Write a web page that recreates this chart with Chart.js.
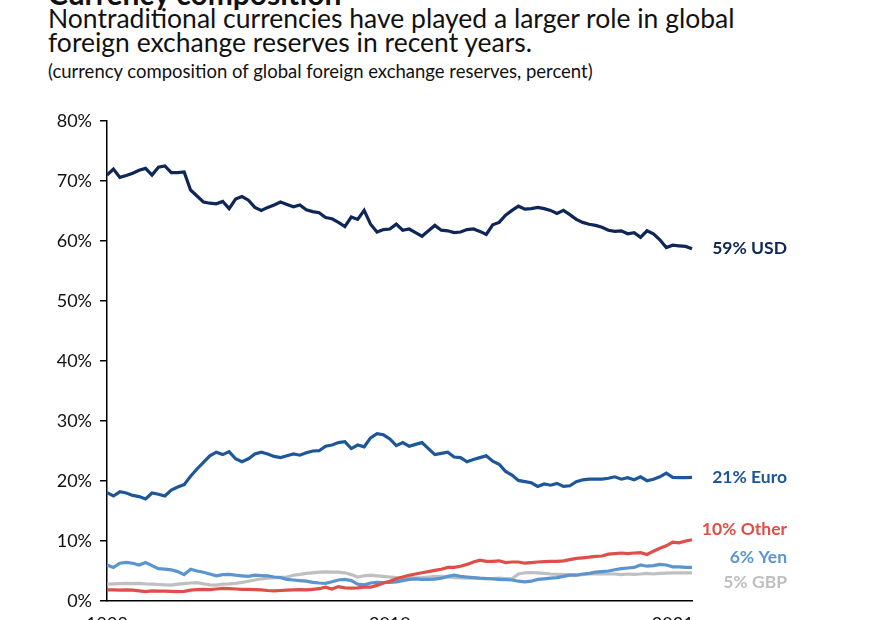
<!DOCTYPE html>
<html>
<head>
<meta charset="utf-8">
<script src="https://cdn.jsdelivr.net/npm/chart.js@4.4.1/dist/chart.umd.min.js"></script>
<style>
  body { margin: 0; background: #fff; }
  #wrap { position: relative; width: 881px; height: 620px; overflow: hidden; background: #fff; font-family: Lato, sans-serif; color: #111; }
  .t { position: absolute; left: 48px; white-space: nowrap; }
  #title { top: -22px; font-size: 30px; line-height: 30px; font-weight: 700; }
  #sub { top: 6px; font-size: 26.5px; line-height: 24px; }
  #note { top: 62px; font-size: 18.5px; line-height: 18.5px; }
  #box { position: absolute; left: 0; top: 0; width: 881px; height: 660px; }
</style>
</head>
<body>
<div id="wrap">
  <div class="t" id="title">Currency composition</div>
  <div class="t" id="sub">Nontraditional currencies have played a larger role in global<br>foreign exchange reserves in recent years.</div>
  <div class="t" id="note">(currency composition of global foreign exchange reserves, percent)</div>
  <div id="box"><canvas id="myChart"></canvas></div>
</div>
<script>
// quarterly, 1999 Q1 - 2021 Q4
const years = [];
for (let y = 1999; y <= 2021; y++) years.push(y);
const quarters = [];
years.forEach(y => ['Q1', 'Q2', 'Q3', 'Q4'].forEach(q => quarters.push(y + ' ' + q)));

const tickYears = ['1999', '2010', '2021'];

const usd = [71.0, 72.0, 70.6, 70.9, 71.3, 71.8, 72.1, 71.0, 72.3, 72.5,
  71.4, 71.4, 71.5, 68.5, 67.5, 66.5, 66.3, 66.2, 66.6, 65.4,
  67.0, 67.4, 66.8, 65.6, 65.1, 65.6, 66.0, 66.5, 66.1, 65.7,
  66.0, 65.2, 64.9, 64.7, 63.9, 63.7, 63.1, 62.4, 64.0, 63.6,
  65.1, 62.8, 61.5, 61.9, 62.0, 62.8, 61.8, 62.0, 61.4, 60.8,
  61.7, 62.6, 61.8, 61.7, 61.4, 61.5, 61.9, 62.0, 61.6, 61.1,
  62.7, 63.1, 64.3, 65.1, 65.8, 65.3, 65.4, 65.6, 65.4, 65.1,
  64.6, 65.1, 64.4, 63.6, 63.1, 62.8, 62.6, 62.3, 61.8, 61.6,
  61.7, 61.2, 61.4, 60.6, 61.7, 61.2, 60.2, 58.9, 59.3, 59.2,
  59.1, 58.7];
const euro = [18.05, 17.5, 18.2, 18.0, 17.6, 17.4, 17.0, 18.0, 17.8, 17.5,
  18.5, 19.0, 19.4, 20.8, 22.0, 23.1, 24.2, 24.8, 24.4, 24.9,
  23.7, 23.2, 23.7, 24.5, 24.8, 24.5, 24.1, 23.9, 24.2, 24.5,
  24.3, 24.7, 25.0, 25.05, 25.8, 26.0, 26.4, 26.55, 25.4, 26.0,
  25.7, 27.2, 27.9, 27.7, 27.0, 25.9, 26.4, 25.8, 26.1, 26.4,
  25.4, 24.4, 24.6, 24.8, 24.0, 23.9, 23.2, 23.6, 23.9, 24.2,
  23.3, 22.8, 21.6, 21.0, 20.1, 19.9, 19.7, 19.1, 19.5, 19.3,
  19.6, 19.1, 19.2, 19.9, 20.2, 20.3, 20.3, 20.3, 20.45, 20.7,
  20.3, 20.55, 20.2, 20.7, 20.05, 20.3, 20.7, 21.3, 20.6, 20.55,
  20.55, 20.6];
const other = [1.85, 1.85, 1.8, 1.85, 1.8, 1.7, 1.55, 1.7, 1.65, 1.65,
  1.6, 1.55, 1.6, 1.8, 1.9, 1.95, 1.9, 2.0, 2.1, 2.05,
  2.0, 1.95, 1.95, 1.9, 1.85, 1.75, 1.7, 1.75, 1.8, 1.85,
  1.9, 1.85, 1.95, 2.05, 2.3, 2.0, 2.4, 2.2, 2.15, 2.2,
  2.3, 2.3, 2.6, 3.0, 3.3, 3.7, 4.0, 4.3, 4.5, 4.7,
  4.9, 5.1, 5.3, 5.6, 5.6, 5.8, 6.1, 6.5, 6.8, 6.6,
  6.6, 6.7, 6.4, 6.5, 6.5, 6.3, 6.4, 6.5, 6.55, 6.6,
  6.6, 6.7, 6.9, 7.1, 7.2, 7.3, 7.45, 7.5, 7.8, 7.9,
  8.0, 7.9, 8.0, 8.05, 7.75, 8.3, 8.8, 9.2, 9.8, 9.7,
  10.0, 10.2];
const yen = [6.0, 5.6, 6.3, 6.45, 6.3, 6.0, 6.4, 5.9, 5.4, 5.3,
  5.2, 4.9, 4.4, 5.3, 5.0, 4.8, 4.5, 4.2, 4.4, 4.45,
  4.3, 4.2, 4.1, 4.3, 4.25, 4.2, 4.0, 3.9, 3.6, 3.5,
  3.4, 3.3, 3.1, 3.0, 2.95, 3.2, 3.5, 3.6, 3.4, 2.8,
  2.7, 3.0, 3.1, 3.05, 3.1, 3.2, 3.4, 3.6, 3.7, 3.6,
  3.6, 3.65, 3.8, 4.1, 4.3, 4.1, 4.0, 3.9, 3.8, 3.75,
  3.7, 3.6, 3.55, 3.5, 3.3, 3.2, 3.3, 3.6, 3.7, 3.8,
  3.9, 4.1, 4.3, 4.3, 4.5, 4.6, 4.8, 4.9, 5.0, 5.2,
  5.4, 5.5, 5.6, 6.0, 5.8, 5.9, 6.1, 6.0, 5.7, 5.7,
  5.6, 5.6];
const gbp = [2.8, 2.85, 2.9, 2.95, 2.9, 2.95, 2.85, 2.8, 2.75, 2.7,
  2.65, 2.8, 2.9, 3.0, 3.05, 2.85, 2.7, 2.65, 2.8, 2.85,
  2.95, 3.1, 3.3, 3.5, 3.7, 3.8, 3.9, 3.95, 4.0, 4.3,
  4.45, 4.6, 4.7, 4.8, 4.85, 4.8, 4.8, 4.7, 4.4, 4.0,
  4.2, 4.3, 4.2, 4.1, 4.0, 3.9, 3.8, 3.9, 3.85, 3.9,
  4.0, 4.1, 4.1, 4.0, 3.9, 3.85, 3.8, 3.8, 3.75, 3.7,
  3.75, 3.8, 3.75, 3.7, 4.5, 4.7, 4.75, 4.7, 4.6, 4.5,
  4.45, 4.4, 4.4, 4.3, 4.4, 4.5, 4.5, 4.5, 4.5, 4.5,
  4.4, 4.5, 4.45, 4.5, 4.6, 4.5, 4.6, 4.65, 4.7, 4.7,
  4.7, 4.7];

const endLabels = ['59% USD', '21% Euro', '10% Other', '6% Yen', '5% GBP'];
const colors = ['#0f2658', '#1d5699', '#dd4f48', '#5b95cf', '#bfbfbf'];
const labelNudge = [0, 0, -10, -10, 10];

const endLabelPlugin = {
  id: 'endLabels',
  afterDatasetsDraw(chart) {
    const ctx = chart.ctx;
    const yScale = chart.scales.y;
    ctx.save();
    ctx.font = 'bold 17.5px Lato';
    ctx.textAlign = 'right';
    ctx.textBaseline = 'middle';
    chart.data.datasets.forEach((ds, i) => {
      const last = ds.data[ds.data.length - 1];
      ctx.fillStyle = colors[i];
      ctx.fillText(endLabels[i], 787, yScale.getPixelForValue(last) + labelNudge[i]);
    });
    ctx.restore();
  }
};

function createChart() {
  const ctx = document.getElementById('myChart').getContext('2d');
  const series = [usd, euro, other, yen, gbp];

  new Chart(ctx, {
    type: 'line',
    data: {
      labels: quarters,
      datasets: series.map((d, i) => ({
        label: endLabels[i],
        data: d,
        borderColor: colors[i],
        borderWidth: 3.2,
        pointRadius: 0,
        tension: 0,
        fill: false
      }))
    },
    options: {
      responsive: true,
      maintainAspectRatio: false,
      animation: false,
      layout: { padding: { top: 121, right: 189, left: 0, bottom: 0 } },
      plugins: {
        legend: { display: false },
        tooltip: { enabled: false }
      },
      scales: {
        x: {
          grid: { display: false, drawTicks: false },
          border: { color: '#000', width: 1.5 },
          ticks: {
            autoSkip: false,
            maxRotation: 0,
            padding: 12,
            color: '#111',
            font: { family: 'Lato', size: 18 },
            callback: function (value) {
              const l = this.getLabelForValue(value);
              const y = l.slice(0, 4);
              return (l.endsWith('Q1') && tickYears.includes(y)) ? y : '';
            }
          },
          afterFit: s => { s.height = 59; }
        },
        y: {
          min: 0,
          max: 80,
          grid: { drawOnChartArea: false, drawTicks: true, tickLength: 7, color: '#000', lineWidth: 1.5 },
          border: { color: '#000', width: 1.5 },
          ticks: {
            stepSize: 10,
            padding: 8,
            color: '#111',
            font: { family: 'Lato', size: 18 },
            callback: v => v + '%'
          },
          afterFit: s => { s.width = 107; }
        }
      }
    },
    plugins: [endLabelPlugin]
  });
}

window.onload = createChart;
</script>
</body>
</html>
